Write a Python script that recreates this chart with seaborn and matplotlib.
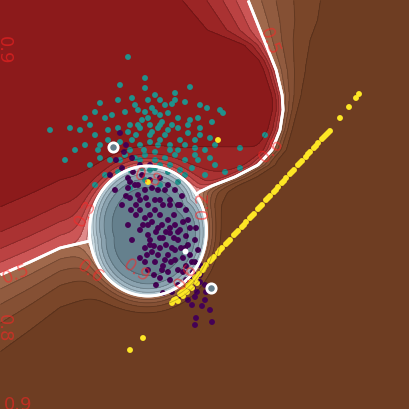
import numpy as np
import pandas as pd
import matplotlib
matplotlib.use("Agg")
import matplotlib.pyplot as plt
import seaborn as sns

# --- scatter data (pixel-like coordinates, y grows downward) ---
teal_x = [128, 145, 120, 190, 175, 100, 118, 132, 148, 160, 172, 185, 200, 207, 220, 223,
          85, 95, 105, 112, 125, 138, 145, 152, 160, 168, 178, 190, 198, 212,
          50, 70, 80, 90, 95, 108, 118, 130, 140, 150, 158, 168, 178, 188, 200, 210,
          65, 75, 85, 100, 120, 132, 140, 150, 160, 170, 185, 195, 240, 265,
          90, 100, 110, 125, 135, 145, 155, 165, 175, 185, 198, 210, 225, 240,
          95, 105, 118, 130, 142, 155, 168, 180, 192, 205, 130, 145, 160, 178, 215,
          148, 152, 158, 162, 144, 136, 170, 155, 150,
          135, 142, 155, 165, 172, 180, 188, 195, 205, 130, 120, 112, 160, 170, 185,
          150, 140, 178, 165, 128, 200, 215, 108, 98, 155, 145, 138, 195, 175, 160]
teal_y = [57, 78, 85, 87, 93, 103, 100, 98, 100, 100, 104, 102, 105, 108, 110, 113,
          118, 112, 118, 115, 112, 110, 112, 108, 115, 113, 118, 120, 118, 122,
          130, 128, 130, 125, 135, 130, 128, 125, 128, 125, 128, 130, 128, 133, 135, 138,
          160, 150, 145, 145, 142, 140, 145, 142, 140, 145, 145, 148, 148, 135,
          165, 158, 160, 155, 158, 155, 152, 158, 155, 160, 160, 158, 172, 168,
          185, 175, 172, 170, 168, 168, 172, 170, 168, 175, 188, 180, 185, 182, 165,
          118, 132, 145, 122, 150, 135, 150, 160, 170,
          105, 120, 112, 105, 125, 140, 125, 140, 150, 150, 160, 148, 165, 165, 175,
          135, 160, 150, 135, 132, 128, 145, 140, 150, 95, 88, 125, 155, 100, 125]

purple_x = [120, 126, 116, 122, 128, 133, 138, 145, 152, 160, 168, 175, 182, 130, 140, 148,
            155, 163, 170, 178, 186, 136, 145, 152, 160, 168, 175, 183, 190, 140, 148, 156,
            163, 170, 178, 186, 195, 145, 152, 160, 168, 175, 183, 190, 198, 155, 163, 171,
            178, 186, 193, 200, 160, 170, 178, 186, 193, 200, 206, 180, 188, 195, 202, 210,
            196, 212, 195, 205, 140, 132, 128, 122, 115, 110, 148, 156, 135, 142, 150, 158,
            166, 174, 180, 188, 192, 172, 163, 150, 160, 124, 132, 140, 150, 128,
            130, 138, 146, 155, 162, 170, 178, 185, 172, 165, 158, 150, 143, 136, 175,
            183, 190, 197, 168, 162, 154, 145, 185, 192, 170, 165, 158, 150, 140, 188,
            196, 181, 174, 166, 154, 148, 131, 126, 180, 195, 200, 178, 205, 160, 147]
purple_y = [133, 145, 160, 168, 178, 172, 185, 190, 188, 178, 185, 190, 196, 198, 200, 205,
            200, 205, 200, 205, 210, 215, 218, 222, 215, 220, 225, 222, 228, 230, 235, 232,
            238, 233, 240, 236, 240, 248, 252, 248, 255, 250, 258, 255, 250, 262, 266, 262,
            270, 266, 272, 265, 278, 280, 285, 280, 288, 282, 292, 295, 300, 297, 306, 310,
            318, 322, 325, 300, 258, 240, 225, 205, 190, 175, 270, 285, 185, 175, 215, 228,
            245, 215, 230, 245, 262, 292, 293, 245, 200, 152, 158, 165, 165, 188,
            182, 195, 198, 210, 225, 228, 232, 248, 248, 260, 255, 240, 225, 205, 260,
            272, 278, 292, 272, 270, 275, 262, 290, 305, 205, 190, 190, 180, 210, 220,
            228, 248, 238, 232, 246, 225, 210, 196, 205, 262, 275, 300, 285, 238, 255]

yellow_x = [172, 176, 180, 184, 188, 191, 195, 199, 203, 206, 210, 214, 218, 222, 226, 230,
            234, 238, 242, 246, 250, 254, 258, 262, 266, 270, 274, 278, 282, 286, 290, 294,
            298, 302, 306, 310, 314, 318, 322, 326, 330, 178, 183, 187, 192, 197,
            174, 182, 189, 196, 204, 212, 220, 228, 236, 244, 252, 260, 268, 276, 284, 292,
            300, 308, 316, 324, 328,
            340, 349, 356, 359, 218, 148, 130, 143]
yellow_y = [303, 299, 294, 290, 286, 282, 278, 274, 270, 265, 261, 257, 253, 248, 244, 240,
            235, 231, 227, 222, 218, 214, 209, 205, 200, 196, 192, 187, 183, 178, 174, 170,
            165, 161, 157, 152, 148, 143, 139, 135, 131, 301, 296, 292, 288, 283,
            300, 292, 285, 277, 268, 259, 250, 242, 233, 225, 216, 207, 198, 190, 181, 172,
            163, 154, 146, 137, 133,
            118, 107, 98, 94, 140, 182, 350, 338]

# highlighted query points
query_x = [113, 211]
query_y = [147, 288]
white_x = [185]
white_y = [251]

# contour value labels
label_text = ['0.9', '0.8', '0.9', '0.5', '0.6', '0.9', '0.3', '0.8', '0.2', '0.5', '0.6', '0.6']
label_x = [4, 4, 18, 16, 90, 136, 86, 148, 203, 269, 271, 186]
label_y = [50, 328, 405, 274, 272, 271, 213, 178, 205, 42, 150, 277]
label_rot = [-90, -90, 0, 22, -35, -35, 60, -20, 90, -70, 45, 55]

# --- decision field: red/brown boundary curves and the blue ellipse ---
upper_y = [-10, 0, 20, 45, 70, 95, 110, 130, 150, 165, 177, 186, 192, 205, 230, 300, 420]
upper_x = [245, 248, 256, 266, 276, 282, 283, 280, 272, 258, 235, 212, 200, 185, 165, 130, 100]
lower_x = [-10, 0, 30, 60, 90, 120, 150, 200, 420]
lower_y = [280, 275, 262, 248, 241, 236, 228, 215, 215]
ell_cx, ell_cy, ell_a, ell_b = 148, 231, 58.5, 65

W = 409
g = np.arange(W) + 0.5
xx, yy = np.meshgrid(g, g)

a_raw = np.interp(yy, upper_y, upper_x) - xx
b_raw = np.interp(xx, lower_x, lower_y) - yy
wa = np.where(a_raw > 0,
              np.interp(yy, [0, 30, 45, 60, 100, 150, 185, 220], [30, 24, 10, 6, 4.5, 6, 12, 15]),
              np.interp(yy, [0, 20, 40, 67, 93, 110, 130, 160, 200, 300],
                        [33, 28, 21, 14, 9, 6.5, 5.5, 7, 14, 18]))
wb = np.where(b_raw > 0, 31.0, np.interp(xx, [0, 60, 100], [35, 27, 25]))
s = 0.4
L = -s * np.logaddexp(-(a_raw / wa) / s, -(b_raw / wb) / s)
q = ((xx - ell_cx) / ell_a) ** 2 + ((yy - ell_cy) / ell_b) ** 2
F = np.stack([L / 2, np.abs(L) / 2 + 4.4 * (1 - q), -L / 2])
P = np.exp(F - F.max(0))
P /= P.sum(0)
pmax = P.max(0)
cls = P.argmax(0)

levels = [0.3, 0.4, 0.5, 0.6, 0.7, 0.8, 0.9, 1.0001]
class_colors = [
    ['#f0b4b4', '#e08a8a', '#cc5656', '#bb4242', '#aa3232', '#9b2525', '#8c1a1b'],
    ['#dde9ee', '#c9dae2', '#b4c8d2', '#9fb5c1', '#8aa2af', '#75909d', '#65808d'],
    ['#cc9a80', '#b78065', '#a0694c', '#915b3f', '#855034', '#7a4629', '#6e3d22'],
]

fig = plt.figure(figsize=(4.09, 4.09), dpi=100)
ax = fig.add_axes([0, 0, 1, 1])

for k in range(3):
    Z = np.ma.masked_where(cls != k, pmax)
    ax.contourf(g, g, Z, levels=levels, colors=class_colors[k])
ax.contour(g, g, pmax, levels=levels[1:-1], colors='k', alpha=0.22, linewidths=0.6)
for k in range(3):
    D = P[k] - np.delete(P, k, axis=0).max(0)
    ax.contour(g, g, D, levels=[0], colors='white', linewidths=2.0)

for t, lx, ly, r in zip(label_text, label_x, label_y, label_rot):
    ax.text(lx, ly, t, color='#ff2424', alpha=0.55, fontsize=13, rotation=r,
            ha='center', va='center', rotation_mode='anchor')

pts = pd.DataFrame({
    'x': teal_x + purple_x + yellow_x,
    'y': teal_y + purple_y + yellow_y,
    'cls': ['a'] * len(teal_x) + ['b'] * len(purple_x) + ['c'] * len(yellow_x),
})
sns.scatterplot(data=pts, x='x', y='y', hue='cls',
                palette={'a': '#21918c', 'b': '#440154', 'c': '#fde725'},
                s=18, linewidth=0, legend=False, ax=ax)
ax.scatter(query_x, query_y, s=45, facecolor='#667f8c', edgecolor='white', linewidth=2, zorder=5)
ax.scatter(white_x, white_y, s=18, color='white', linewidth=0, zorder=5)

ax.set_xlim(0, W)
ax.set_ylim(W, 0)
ax.axis('off')
fig.savefig('out.png', dpi=100)
